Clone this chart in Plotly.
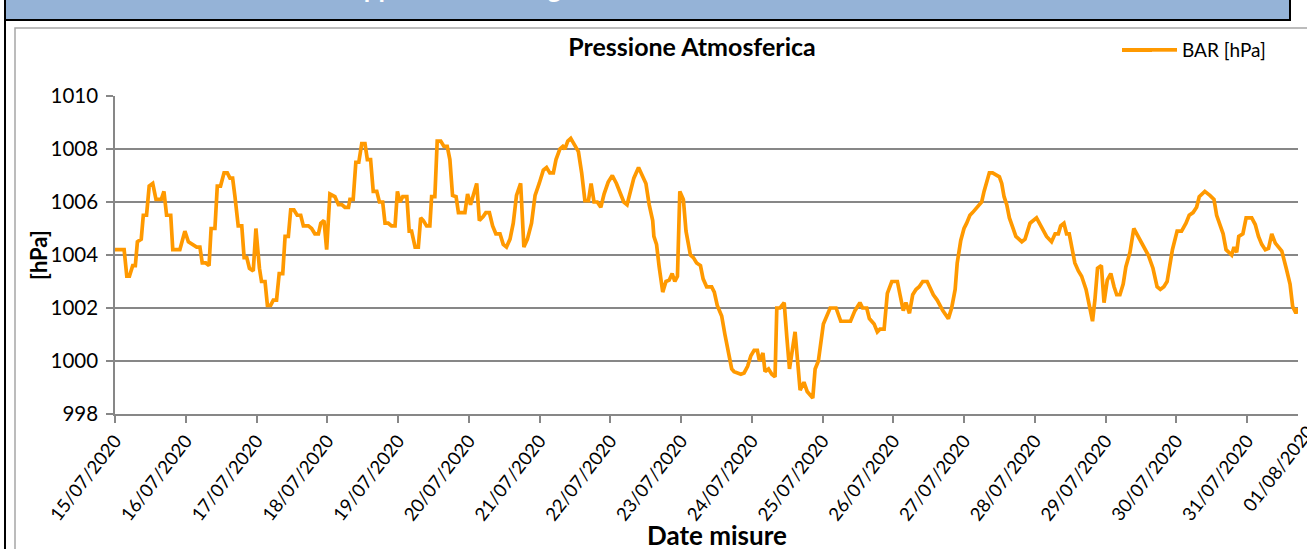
import plotly.graph_objects as go
from datetime import datetime, timedelta

# ---------------- DATA ----------------
# hours elapsed since 15/07/2020 00:00
ORE = [
    0, 3.1, 4.0, 4.9, 6.0, 6.9, 7.6, 8.9, 9.6, 10.7, 11.6, 12.8, 13.9, 15.7, 16.6, 17.5, 18.9, 19.6, 22.0, 23.7,
    24.9, 26.6, 27.7, 28.8, 29.6, 30.8, 31.9, 32.6, 33.9, 34.7, 35.8, 37.0, 38.1, 39.0, 39.9, 40.7, 41.8, 43.0, 43.8, 44.7,
    45.6, 46.9, 47.8, 49.0, 49.7, 50.9, 51.7, 52.8, 53.7, 54.8, 55.7, 56.9, 57.7, 58.8, 59.6, 60.7, 61.8, 63.0, 63.9, 65.6,
    66.7, 67.8, 69.0, 69.8, 70.9, 71.8, 72.9, 74.6, 75.8, 76.9, 78.0, 79.2, 79.7, 80.8, 81.7, 82.7, 83.7, 84.8, 85.6, 86.7,
    87.6, 88.8, 89.7, 90.8, 91.6, 92.7, 93.8, 95.0, 95.8, 96.7, 97.6, 99.0, 99.8, 100.6, 101.8, 102.9, 103.7, 104.6, 105.7, 106.8,
    107.4, 108.5, 109.3, 110.5, 111.6, 112.7, 113.6, 114.5, 115.7, 116.5, 118.7, 119.6, 120.6, 122.7, 123.6, 124.9, 125.8, 127.0, 128.1, 129.2,
    130.6, 131.7, 132.8, 134.0, 135.1, 136.2, 137.6, 138.7, 139.9, 141.3, 142.5, 143.9, 145.3, 146.4, 147.5, 148.7, 149.6, 150.9, 151.9, 152.6,
    153.6, 154.6, 156.1, 157.2, 158.3, 159.4, 160.6, 161.5, 162.5, 163.6, 164.8, 165.9, 167.3, 168.7, 170.1, 171.3, 172.6, 173.7, 174.9, 176.0,
    177.6, 179.0, 180.1, 181.2, 182.4, 182.8, 183.7, 184.6, 185.8, 186.9, 188.0, 189.0, 189.9, 190.8, 191.6, 192.8, 193.7, 195.2, 196.2, 197.3,
    198.6, 199.5, 200.7, 202.4, 203.3, 204.3, 205.8, 206.9, 208.1, 209.2, 210.0, 211.1, 212.3, 213.4, 214.6, 215.7, 216.8, 217.9, 218.6, 219.8,
    220.5, 221.7, 222.8, 223.9, 224.5, 225.6, 227.0, 227.9, 228.8, 230.7, 232.4, 233.7, 234.8, 236.7, 237.5, 238.6, 240.3, 242.6, 244.6, 246.2,
    249.5, 251.0, 252.7, 253.6, 255.0, 255.9, 257.5, 258.6, 259.5, 260.9, 262.0, 263.5, 265.4, 266.3, 267.4, 268.3, 269.5, 270.6, 271.7, 272.8,
    274.0, 275.5, 276.7, 277.6, 278.9, 280.8, 282.7, 283.8, 285.0, 285.7, 286.9, 288.0, 288.9, 290.0, 290.9, 292.1, 292.9, 294.0, 294.8, 295.7,
    296.6, 297.7, 298.9, 300.0, 300.8, 301.6, 302.5, 303.4, 304.5, 305.6, 307.6, 308.7, 310.4, 312.6, 314.3, 316.0, 317.7, 318.9, 320.0, 320.8,
    321.9, 322.8, 323.7, 324.5, 325.6, 326.8, 327.9, 329.4, 330.7, 331.6, 332.4, 333.3, 334.6, 335.5, 336.6, 337.8, 338.9, 339.8, 340.9, 342.0,
    342.9, 344.3, 345.6, 347.1, 348.8, 350.5, 352.1, 353.5, 354.6, 355.8, 356.9, 357.8, 358.7, 360.3, 361.8, 363.3, 364.4, 365.7, 366.9, 367.8,
    369.7, 371.4, 372.8, 373.7, 374.8, 375.9, 376.9, 378.8, 379.6, 380.5, 381.2, 382.6, 383.7, 385.6, 386.8, 387.9, 389.0, 390.2, 391.3, 392.4,
    393.6, 394.7, 395.8, 397.3, 398.6, 399.5, 400.6, 401.2,
]

# BAR [hPa]
BAR_HPA = [
    1004.2, 1004.2, 1003.2, 1003.2, 1003.6, 1003.6, 1004.5, 1004.6, 1005.5, 1005.5, 1006.6, 1006.7, 1006.1, 1006.1, 1006.4, 1005.5, 1005.5, 1004.2, 1004.2, 1004.9,
    1004.5, 1004.4, 1004.3, 1004.3, 1003.7, 1003.7, 1003.6, 1005.0, 1005.0, 1006.6, 1006.6, 1007.1, 1007.1, 1006.9, 1006.9, 1006.2, 1005.1, 1005.1, 1003.9, 1003.9,
    1003.5, 1003.4, 1005.0, 1003.5, 1003.0, 1003.0, 1002.1, 1002.1, 1002.3, 1002.3, 1003.3, 1003.3, 1004.7, 1004.7, 1005.7, 1005.7, 1005.5, 1005.5, 1005.1, 1005.1,
    1005.0, 1004.8, 1004.8, 1005.2, 1005.3, 1004.2, 1006.3, 1006.2, 1005.9, 1005.9, 1005.8, 1005.8, 1006.1, 1006.1, 1007.5, 1007.5, 1008.2, 1008.2, 1007.6, 1007.6,
    1006.4, 1006.4, 1006.0, 1006.0, 1005.2, 1005.2, 1005.1, 1005.1, 1006.4, 1006.0, 1006.2, 1006.2, 1004.9, 1004.9, 1004.3, 1004.3, 1005.4, 1005.3, 1005.1, 1005.1,
    1006.2, 1006.2, 1008.3, 1008.3, 1008.1, 1008.1, 1007.6, 1006.25, 1006.2, 1005.6, 1005.6, 1006.3, 1005.9, 1006.7, 1005.3, 1005.45, 1005.6, 1005.6, 1005.1, 1004.8,
    1004.8, 1004.4, 1004.3, 1004.6, 1005.2, 1006.25, 1006.7, 1004.3, 1004.6, 1005.2, 1006.25, 1006.7, 1007.2, 1007.3, 1007.1, 1007.1, 1007.6, 1008.0, 1008.1, 1008.0,
    1008.3, 1008.4, 1008.1, 1007.9, 1007.1, 1006.05, 1006.05, 1006.7, 1006.0, 1006.0, 1005.8, 1006.3, 1006.75, 1007.0, 1006.7, 1006.4, 1006.0, 1005.9, 1006.4, 1006.9,
    1007.3, 1007.0, 1006.7, 1005.9, 1005.3, 1004.7, 1004.4, 1003.55, 1002.6, 1003.0, 1003.05, 1003.3, 1003.0, 1003.2, 1006.4, 1006.1, 1004.9, 1004.0, 1003.9, 1003.7,
    1003.6, 1003.1, 1002.8, 1002.8, 1002.6, 1002.1, 1001.7, 1001.0, 1000.35, 999.7, 999.6, 999.55, 999.5, 999.55, 999.8, 1000.2, 1000.4, 1000.4, 1000.0, 1000.3,
    999.6, 999.7, 999.5, 999.4, 1002.0, 1002.0, 1002.2, 1000.9, 999.7, 1001.1, 998.9, 999.2, 998.85, 998.6, 999.7, 1000.0, 1001.4, 1002.0, 1002.0, 1001.5,
    1001.5, 1001.9, 1002.2, 1002.0, 1002.0, 1001.6, 1001.4, 1001.1, 1001.2, 1001.2, 1002.55, 1003.0, 1003.0, 1002.5, 1001.9, 1002.2, 1001.8, 1002.5, 1002.7, 1002.8,
    1003.0, 1003.0, 1002.7, 1002.5, 1002.3, 1001.9, 1001.6, 1002.0, 1002.7, 1003.7, 1004.55, 1005.0, 1005.2, 1005.5, 1005.6, 1005.75, 1005.9, 1006.0, 1006.4, 1006.8,
    1007.1, 1007.1, 1007.0, 1006.95, 1006.7, 1006.2, 1005.9, 1005.4, 1005.05, 1004.7, 1004.5, 1004.6, 1005.2, 1005.4, 1005.05, 1004.7, 1004.5, 1004.8, 1004.8, 1005.1,
    1005.2, 1004.8, 1004.8, 1004.3, 1003.7, 1003.4, 1003.2, 1002.7, 1002.0, 1001.5, 1002.3, 1003.5, 1003.6, 1002.2, 1003.05, 1003.3, 1002.8, 1002.5, 1002.5, 1002.9,
    1003.55, 1004.1, 1005.0, 1004.7, 1004.4, 1004.0, 1003.5, 1002.8, 1002.7, 1002.8, 1003.0, 1003.7, 1004.2, 1004.9, 1004.9, 1005.2, 1005.5, 1005.6, 1005.8, 1006.2,
    1006.4, 1006.25, 1006.1, 1005.5, 1005.1, 1004.8, 1004.2, 1004.0, 1004.3, 1004.1, 1004.7, 1004.8, 1005.4, 1005.4, 1005.15, 1004.7, 1004.4, 1004.2, 1004.25, 1004.8,
    1004.45, 1004.3, 1004.15, 1003.5, 1002.9, 1002.05, 1001.8, 1002.0,
]

ETICHETTE_DATE = [
    "15/07/2020", "16/07/2020", "17/07/2020", "18/07/2020", "19/07/2020", "20/07/2020",
    "21/07/2020", "22/07/2020", "23/07/2020", "24/07/2020", "25/07/2020", "26/07/2020",
    "27/07/2020", "28/07/2020", "29/07/2020", "30/07/2020", "31/07/2020", "01/08/2020",
]
Y_TICKS = [998, 1000, 1002, 1004, 1006, 1008, 1010]

SERIE = "BAR [hPa]"
TITOLO = "Pressione Atmosferica"
TITOLO_X = "Date misure"
TITOLO_Y = "[hPa]"
TITOLO_FOGLIO = "Rappresentazione grafica della Pressione atmosferica"

# ---------------- LAYOUT ----------------
W, H = 1307, 549
L, R, T, B = 115, 9, 96, 135
PW, PH = W - L - R, H - T - B
PX_PER_DAY = 70.75
FONT = "Lato"
GRID = "#878787"
ORANGE = "#FF9900"
TICK_ANGLE = -52
XTICK_SIZE = 18.5


def px(x):
    return (x - L) / PW


def py(y):
    return (H - B - y) / PH


start = datetime(2020, 7, 15)
xs = [start + timedelta(hours=h) for h in ORE]
tick_dates = [datetime.strptime(s, "%d/%m/%Y") for s in ETICHETTE_DATE]
x_end = start + timedelta(days=PW / PX_PER_DAY)
in_range = [(d, s) for d, s in zip(tick_dates, ETICHETTE_DATE) if d <= x_end]
out_range = [(d, s) for d, s in zip(tick_dates, ETICHETTE_DATE) if d > x_end]

fig = go.Figure()
fig.add_trace(go.Scatter(
    x=xs, y=BAR_HPA, mode="lines", name=SERIE,
    line=dict(color=ORANGE, width=3.7),
))

annotations = [
    dict(text=TITOLO_FOGLIO, x=px(640), y=py(6), xref="paper", yref="paper",
         xanchor="center", yanchor="bottom", showarrow=False,
         font=dict(family=FONT, size=26, color="white", weight="bold")),
    dict(text=TITOLO_Y, x=px(38), y=py(255), xref="paper", yref="paper",
         xanchor="center", yanchor="middle", textangle=-90, showarrow=False,
         font=dict(family=FONT, size=22, color="black", weight="bold")),
    dict(text=TITOLO_X, x=px(717), y=py(535), xref="paper", yref="paper",
         xanchor="center", yanchor="middle", showarrow=False,
         font=dict(family=FONT, size=26, color="black", weight="bold")),
]
for d, s in out_range:
    day_px = L + (d - start).total_seconds() / 86400 * PX_PER_DAY
    annotations.append(dict(
        text=s, x=px(day_px + 4), y=py(418), xref="paper", yref="paper",
        xanchor="right", yanchor="top", textangle=TICK_ANGLE, showarrow=False,
        font=dict(family=FONT, size=XTICK_SIZE, color="black")))

shapes = [
    # blue sheet header bar
    dict(type="rect", xref="paper", yref="paper", x0=px(5), x1=px(1290), y0=py(-6), y1=py(20),
         fillcolor="#95B3D7", line=dict(color="black", width=2), layer="below"),
    # black sheet border on the left
    dict(type="line", xref="paper", yref="paper", x0=px(5), x1=px(5), y0=py(-6), y1=py(560),
         line=dict(color="black", width=2)),
    # grey chart frame
    dict(type="path", xref="paper", yref="paper",
         path=f"M {px(15)} {py(560)} L {px(15)} {py(28)} L {px(1320)} {py(28)}",
         line=dict(color="#A6A6A6", width=1.5)),
    # longer legend sample (left part)
    dict(type="line", xref="paper", yref="paper", x0=px(1122), x1=px(1152), y0=py(50), y1=py(50),
         line=dict(color=ORANGE, width=4)),
]

fig.update_layout(
    width=W, height=H,
    margin=dict(l=L, r=R, t=T, b=B),
    paper_bgcolor="white", plot_bgcolor="white",
    font=dict(family=FONT, color="black"),
    title=dict(text=TITOLO, x=692 / W, y=1 - 47 / H, xanchor="center", yanchor="middle",
               font=dict(family=FONT, size=25, color="black", weight="bold")),
    showlegend=True,
    legend=dict(x=px(1142), y=py(50), xanchor="left", yanchor="middle",
                bgcolor="rgba(0,0,0,0)", borderwidth=0,
                font=dict(family=FONT, size=19, color="black")),
    xaxis=dict(
        range=[start, x_end], tickmode="array",
        tickvals=[d for d, _ in in_range], ticktext=[s for _, s in in_range],
        tickangle=TICK_ANGLE, ticks="outside", ticklen=7, tickcolor=GRID, tickwidth=1.5,
        showline=True, linecolor=GRID, linewidth=1.5, showgrid=False, zeroline=False,
        tickfont=dict(family=FONT, size=XTICK_SIZE, color="black"),
    ),
    yaxis=dict(
        range=[998, 1010], tickmode="array", tickvals=Y_TICKS,
        ticktext=[str(v) for v in Y_TICKS],
        ticks="outside", ticklen=7, tickcolor=GRID, tickwidth=1.5,
        showline=True, linecolor=GRID, linewidth=1.5,
        showgrid=True, gridcolor=GRID, gridwidth=1.5, zeroline=False,
        ticklabelstandoff=4,
        tickfont=dict(family=FONT, size=20.5, color="black"),
    ),
    annotations=annotations,
    shapes=shapes,
)

fig.write_html(
    "out.html",
    config={"displayModeBar": False},
    post_script="document.body.style.margin='0';document.body.style.overflow='hidden';",
)
